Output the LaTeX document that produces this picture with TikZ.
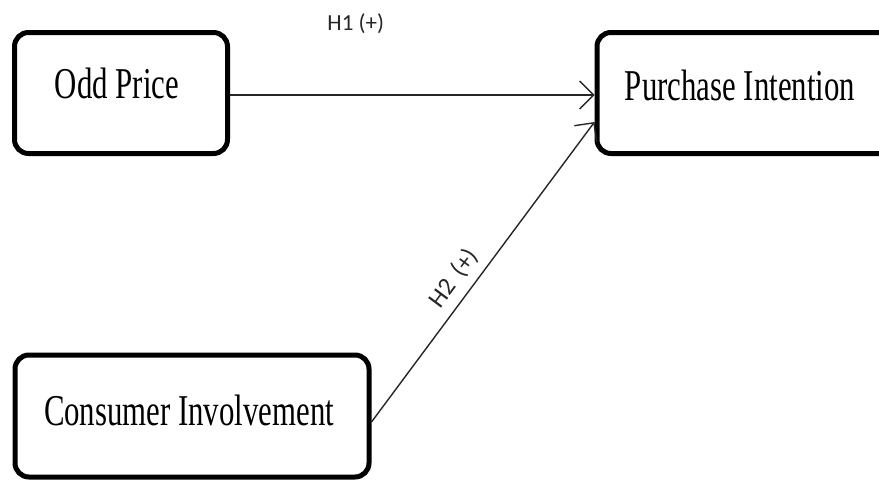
\documentclass[tikz,border=0pt]{standalone}
\usepackage{fontspec}
\usetikzlibrary{arrows.meta,calc}
\newfontfamily\boxfont[FakeStretch=0.70]{Liberation Serif}
\newfontfamily\labfont{Carlito}
\tikzset{
  x=1pt, y=-1pt,
  varbox/.style={draw, line width=5pt, rounded corners=14pt, rectangle,
                 inner sep=0pt, fill=white},
  boxtext/.style={font=\boxfont\fontsize{44}{44}\selectfont, anchor=base,
                  inner sep=0pt},
  path/.style={line width=1.4pt, draw=black!85,
               -{Straight Barb[length=14pt,width=28pt,line width=1.4pt]}},
  hyp/.style={font=\labfont\fontsize{23}{23}\selectfont, inner sep=0pt,
              text=black!85}
}
\begin{document}
\begin{tikzpicture}
\useasboundingbox (0,0) rectangle (879,480);
\clip (0,0) rectangle (879,480);
\fill[white] (0,0) rectangle (879,480);

% construct boxes
\node[varbox, minimum width=213pt, minimum height=121pt] (op) at (121,93) {};
\node[varbox, minimum width=300pt, minimum height=121pt] (pi) at (747,93) {};
\node[varbox, minimum width=354pt, minimum height=122pt] (ci) at (192,416) {};

% box captions
\node[boxtext] (opt) at (117,98) {Odd Price};
\node[boxtext] (pit) at (740,100) {Purchase Intention};
\node[boxtext] (cit) at (189,425) {Consumer Involvement};

% hypothesised paths
\draw[path] ($(op.east)+(0,2)$) -- ($(pi.west)+(0,2)$)
  node[hyp, pos=0.345, yshift=71pt] (h1) {H1 (+)};
\draw[path] ($(ci.east)+(0,6)$) -- ($(pi.west)+(0,29)$)
  node[hyp, pos=0.44, sloped, above=8pt, font=\labfont\fontsize{25}{25}\selectfont] (h2) {H2\, (+)};
\end{tikzpicture}
\end{document}
